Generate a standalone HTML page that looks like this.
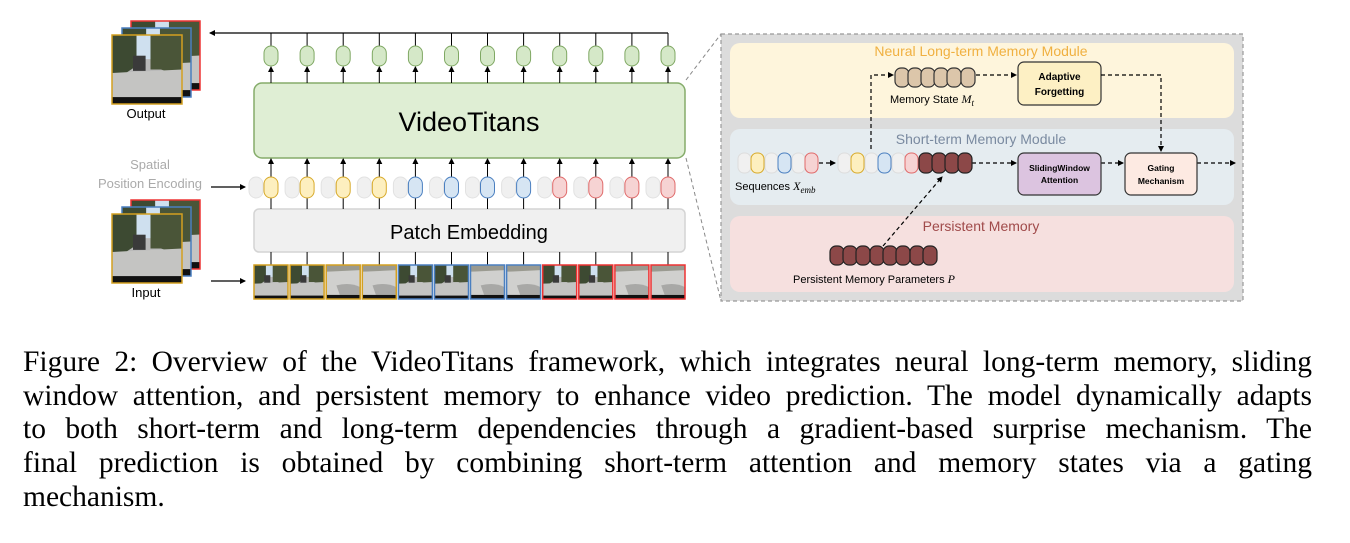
<!DOCTYPE html>
<html><head><meta charset="utf-8"><style>
html,body{margin:0;padding:0;background:#fff;}
body{width:1350px;height:543px;position:relative;overflow:hidden;}
.cap{position:absolute;left:23px;top:346px;width:1289px;font-family:"Liberation Serif",serif;font-size:29.5px;line-height:33.7px;color:#000;}
.cap div{text-align:justify;text-align-last:justify;white-space:nowrap;}
.cap div.l{text-align-last:left;}
</style></head><body>
<svg width="1350" height="330" viewBox="0 0 1350 330" style="position:absolute;left:0;top:0" font-family="Liberation Sans, sans-serif">
<defs>
<marker id="a" markerWidth="6" markerHeight="6" refX="5" refY="3" orient="auto" markerUnits="userSpaceOnUse"><path d="M0,0 L6,3 L0,6z" fill="#000"/></marker>
<symbol id="im1" viewBox="0 0 100 100" preserveAspectRatio="none">
<rect width="100" height="100" fill="#b8b8b8"/>
<rect width="100" height="35" fill="#cfe0ef"/>
<path d="M0,0 H35 V45 L20,55 H0z" fill="#3d4a32"/>
<path d="M55,0 H100 V60 L70,50 H55z" fill="#4a5538"/>
<rect x="30" y="30" width="18" height="22" fill="#3a3a3a"/>
<path d="M0,55 L100,50 V90 H0z" fill="#c4c4c2"/>
<rect y="90" width="100" height="10" fill="#111"/>
</symbol>
<symbol id="im2" viewBox="0 0 100 100" preserveAspectRatio="none">
<rect width="100" height="100" fill="#c8c8c6"/>
<rect width="100" height="20" fill="#9a9a90"/>
<path d="M0,20 L100,15 V88 H0z" fill="#d0d0ce"/>
<path d="M30,60 Q70,50 100,65 V88 H40z" fill="#a8a8a6"/>
<rect y="88" width="100" height="12" fill="#111"/>
</symbol>
</defs>

<use href="#im1" x="131" y="21" width="69" height="69"/>
<rect x="131" y="21" width="69" height="69" fill="none" stroke="#e33" stroke-width="1.5"/>
<use href="#im1" x="122" y="28" width="69" height="69"/>
<rect x="122" y="28" width="69" height="69" fill="none" stroke="#4a7fc0" stroke-width="1.5"/>
<use href="#im1" x="112" y="35" width="70" height="69"/>
<rect x="112" y="35" width="70" height="69" fill="none" stroke="#d4a020" stroke-width="1.5"/>
<text x="146" y="118" font-size="13" text-anchor="middle">Output</text>

<use href="#im1" x="131" y="200" width="69" height="69"/>
<rect x="131" y="200" width="69" height="69" fill="none" stroke="#e33" stroke-width="1.5"/>
<use href="#im1" x="122" y="207" width="69" height="69"/>
<rect x="122" y="207" width="69" height="69" fill="none" stroke="#4a7fc0" stroke-width="1.5"/>
<use href="#im1" x="112" y="214" width="70" height="69"/>
<rect x="112" y="214" width="70" height="69" fill="none" stroke="#d4a020" stroke-width="1.5"/>
<text x="146" y="297" font-size="13" text-anchor="middle">Input</text>

<text x="150" y="169" font-size="13" fill="#aaa" text-anchor="middle">Spatial</text>
<text x="150" y="188" font-size="13" fill="#aaa" text-anchor="middle">Position Encoding</text>
<line x1="211" y1="187" x2="245" y2="187" stroke="#000" stroke-width="1.2" marker-end="url(#a)"/>
<line x1="211" y1="281" x2="245" y2="281" stroke="#000" stroke-width="1.2" marker-end="url(#a)"/>

<line x1="668" y1="33" x2="668" y2="46" stroke="#000"/>
<line x1="668" y1="33" x2="210" y2="33" stroke="#000" stroke-width="1.2" marker-end="url(#a)"/>

<rect x="254" y="83" width="431" height="75" rx="8" fill="#dfeed4" stroke="#85ac6a" stroke-width="1.5"/>
<text x="469" y="131" font-size="27" text-anchor="middle">VideoTitans</text>
<rect x="254" y="209" width="431" height="43" rx="5" fill="#f0f0f0" stroke="#d4d4d4" stroke-width="1.5"/>
<text x="469" y="239" font-size="20" text-anchor="middle">Patch Embedding</text>

<g>
<g transform="translate(271,0)"><line y1="33" y2="46" stroke="#000"/><line y1="83" y2="67" stroke="#000" marker-end="url(#a)"/><rect x="-7" y="46" width="14" height="20" rx="7" fill="#d5e8c8" stroke="#7fa863"/><line y1="177" y2="159" stroke="#000" marker-end="url(#a)"/><line y1="198" y2="209" stroke="#000"/><line y1="252" y2="265" stroke="#000"/><rect x="-22" y="177" width="14" height="21" rx="7" fill="#f0f0f0" stroke="#e2e2e2"/><rect x="-7" y="177" width="14" height="21" rx="7" fill="#fdefbf" stroke="#d8aa2a"/><use href="#im1" x="-17" y="265" width="34" height="34"/><rect x="-17" y="265" width="34" height="34" fill="none" stroke="#d4a020" stroke-width="1.5"/></g>
<g transform="translate(307.1,0)"><line y1="33" y2="46" stroke="#000"/><line y1="83" y2="67" stroke="#000" marker-end="url(#a)"/><rect x="-7" y="46" width="14" height="20" rx="7" fill="#d5e8c8" stroke="#7fa863"/><line y1="177" y2="159" stroke="#000" marker-end="url(#a)"/><line y1="198" y2="209" stroke="#000"/><line y1="252" y2="265" stroke="#000"/><rect x="-22" y="177" width="14" height="21" rx="7" fill="#f0f0f0" stroke="#e2e2e2"/><rect x="-7" y="177" width="14" height="21" rx="7" fill="#fdefbf" stroke="#d8aa2a"/><use href="#im1" x="-17" y="265" width="34" height="34"/><rect x="-17" y="265" width="34" height="34" fill="none" stroke="#d4a020" stroke-width="1.5"/></g>
<g transform="translate(343.2,0)"><line y1="33" y2="46" stroke="#000"/><line y1="83" y2="67" stroke="#000" marker-end="url(#a)"/><rect x="-7" y="46" width="14" height="20" rx="7" fill="#d5e8c8" stroke="#7fa863"/><line y1="177" y2="159" stroke="#000" marker-end="url(#a)"/><line y1="198" y2="209" stroke="#000"/><line y1="252" y2="265" stroke="#000"/><rect x="-22" y="177" width="14" height="21" rx="7" fill="#f0f0f0" stroke="#e2e2e2"/><rect x="-7" y="177" width="14" height="21" rx="7" fill="#fdefbf" stroke="#d8aa2a"/><use href="#im2" x="-17" y="265" width="34" height="34"/><rect x="-17" y="265" width="34" height="34" fill="none" stroke="#d4a020" stroke-width="1.5"/></g>
<g transform="translate(379.3,0)"><line y1="33" y2="46" stroke="#000"/><line y1="83" y2="67" stroke="#000" marker-end="url(#a)"/><rect x="-7" y="46" width="14" height="20" rx="7" fill="#d5e8c8" stroke="#7fa863"/><line y1="177" y2="159" stroke="#000" marker-end="url(#a)"/><line y1="198" y2="209" stroke="#000"/><line y1="252" y2="265" stroke="#000"/><rect x="-22" y="177" width="14" height="21" rx="7" fill="#f0f0f0" stroke="#e2e2e2"/><rect x="-7" y="177" width="14" height="21" rx="7" fill="#fdefbf" stroke="#d8aa2a"/><use href="#im2" x="-17" y="265" width="34" height="34"/><rect x="-17" y="265" width="34" height="34" fill="none" stroke="#d4a020" stroke-width="1.5"/></g>
<g transform="translate(415.4,0)"><line y1="33" y2="46" stroke="#000"/><line y1="83" y2="67" stroke="#000" marker-end="url(#a)"/><rect x="-7" y="46" width="14" height="20" rx="7" fill="#d5e8c8" stroke="#7fa863"/><line y1="177" y2="159" stroke="#000" marker-end="url(#a)"/><line y1="198" y2="209" stroke="#000"/><line y1="252" y2="265" stroke="#000"/><rect x="-22" y="177" width="14" height="21" rx="7" fill="#f0f0f0" stroke="#e2e2e2"/><rect x="-7" y="177" width="14" height="21" rx="7" fill="#d6e5f3" stroke="#4a7fc0"/><use href="#im1" x="-17" y="265" width="34" height="34"/><rect x="-17" y="265" width="34" height="34" fill="none" stroke="#4a7fc0" stroke-width="1.5"/></g>
<g transform="translate(451.5,0)"><line y1="33" y2="46" stroke="#000"/><line y1="83" y2="67" stroke="#000" marker-end="url(#a)"/><rect x="-7" y="46" width="14" height="20" rx="7" fill="#d5e8c8" stroke="#7fa863"/><line y1="177" y2="159" stroke="#000" marker-end="url(#a)"/><line y1="198" y2="209" stroke="#000"/><line y1="252" y2="265" stroke="#000"/><rect x="-22" y="177" width="14" height="21" rx="7" fill="#f0f0f0" stroke="#e2e2e2"/><rect x="-7" y="177" width="14" height="21" rx="7" fill="#d6e5f3" stroke="#4a7fc0"/><use href="#im1" x="-17" y="265" width="34" height="34"/><rect x="-17" y="265" width="34" height="34" fill="none" stroke="#4a7fc0" stroke-width="1.5"/></g>
<g transform="translate(487.5,0)"><line y1="33" y2="46" stroke="#000"/><line y1="83" y2="67" stroke="#000" marker-end="url(#a)"/><rect x="-7" y="46" width="14" height="20" rx="7" fill="#d5e8c8" stroke="#7fa863"/><line y1="177" y2="159" stroke="#000" marker-end="url(#a)"/><line y1="198" y2="209" stroke="#000"/><line y1="252" y2="265" stroke="#000"/><rect x="-22" y="177" width="14" height="21" rx="7" fill="#f0f0f0" stroke="#e2e2e2"/><rect x="-7" y="177" width="14" height="21" rx="7" fill="#d6e5f3" stroke="#4a7fc0"/><use href="#im2" x="-17" y="265" width="34" height="34"/><rect x="-17" y="265" width="34" height="34" fill="none" stroke="#4a7fc0" stroke-width="1.5"/></g>
<g transform="translate(523.6,0)"><line y1="33" y2="46" stroke="#000"/><line y1="83" y2="67" stroke="#000" marker-end="url(#a)"/><rect x="-7" y="46" width="14" height="20" rx="7" fill="#d5e8c8" stroke="#7fa863"/><line y1="177" y2="159" stroke="#000" marker-end="url(#a)"/><line y1="198" y2="209" stroke="#000"/><line y1="252" y2="265" stroke="#000"/><rect x="-22" y="177" width="14" height="21" rx="7" fill="#f0f0f0" stroke="#e2e2e2"/><rect x="-7" y="177" width="14" height="21" rx="7" fill="#d6e5f3" stroke="#4a7fc0"/><use href="#im2" x="-17" y="265" width="34" height="34"/><rect x="-17" y="265" width="34" height="34" fill="none" stroke="#4a7fc0" stroke-width="1.5"/></g>
<g transform="translate(559.7,0)"><line y1="33" y2="46" stroke="#000"/><line y1="83" y2="67" stroke="#000" marker-end="url(#a)"/><rect x="-7" y="46" width="14" height="20" rx="7" fill="#d5e8c8" stroke="#7fa863"/><line y1="177" y2="159" stroke="#000" marker-end="url(#a)"/><line y1="198" y2="209" stroke="#000"/><line y1="252" y2="265" stroke="#000"/><rect x="-22" y="177" width="14" height="21" rx="7" fill="#f0f0f0" stroke="#e2e2e2"/><rect x="-7" y="177" width="14" height="21" rx="7" fill="#f6d3d3" stroke="#e06a6a"/><use href="#im1" x="-17" y="265" width="34" height="34"/><rect x="-17" y="265" width="34" height="34" fill="none" stroke="#e33" stroke-width="1.5"/></g>
<g transform="translate(595.8,0)"><line y1="33" y2="46" stroke="#000"/><line y1="83" y2="67" stroke="#000" marker-end="url(#a)"/><rect x="-7" y="46" width="14" height="20" rx="7" fill="#d5e8c8" stroke="#7fa863"/><line y1="177" y2="159" stroke="#000" marker-end="url(#a)"/><line y1="198" y2="209" stroke="#000"/><line y1="252" y2="265" stroke="#000"/><rect x="-22" y="177" width="14" height="21" rx="7" fill="#f0f0f0" stroke="#e2e2e2"/><rect x="-7" y="177" width="14" height="21" rx="7" fill="#f6d3d3" stroke="#e06a6a"/><use href="#im1" x="-17" y="265" width="34" height="34"/><rect x="-17" y="265" width="34" height="34" fill="none" stroke="#e33" stroke-width="1.5"/></g>
<g transform="translate(631.9,0)"><line y1="33" y2="46" stroke="#000"/><line y1="83" y2="67" stroke="#000" marker-end="url(#a)"/><rect x="-7" y="46" width="14" height="20" rx="7" fill="#d5e8c8" stroke="#7fa863"/><line y1="177" y2="159" stroke="#000" marker-end="url(#a)"/><line y1="198" y2="209" stroke="#000"/><line y1="252" y2="265" stroke="#000"/><rect x="-22" y="177" width="14" height="21" rx="7" fill="#f0f0f0" stroke="#e2e2e2"/><rect x="-7" y="177" width="14" height="21" rx="7" fill="#f6d3d3" stroke="#e06a6a"/><use href="#im2" x="-17" y="265" width="34" height="34"/><rect x="-17" y="265" width="34" height="34" fill="none" stroke="#e33" stroke-width="1.5"/></g>
<g transform="translate(668,0)"><line y1="83" y2="67" stroke="#000" marker-end="url(#a)"/><rect x="-7" y="46" width="14" height="20" rx="7" fill="#d5e8c8" stroke="#7fa863"/><line y1="177" y2="159" stroke="#000" marker-end="url(#a)"/><line y1="198" y2="209" stroke="#000"/><line y1="252" y2="265" stroke="#000"/><rect x="-22" y="177" width="14" height="21" rx="7" fill="#f0f0f0" stroke="#e2e2e2"/><rect x="-7" y="177" width="14" height="21" rx="7" fill="#f6d3d3" stroke="#e06a6a"/><use href="#im2" x="-17" y="265" width="34" height="34"/><rect x="-17" y="265" width="34" height="34" fill="none" stroke="#e33" stroke-width="1.5"/></g>
</g>

<line x1="686" y1="80" x2="721" y2="34" stroke="#888" stroke-dasharray="4,3"/>
<line x1="686" y1="158" x2="721" y2="301" stroke="#888" stroke-dasharray="4,3"/>

<rect x="721" y="34" width="522" height="267" fill="#dcdcdc" stroke="#999" stroke-dasharray="4,3" stroke-width="1.2"/>
<rect x="730" y="43" width="504" height="75" rx="10" fill="#fef5dc"/>
<rect x="730" y="129" width="504" height="76" rx="10" fill="#e5ecf0"/>
<rect x="730" y="216" width="504" height="76" rx="10" fill="#f6e0df"/>
<text x="981" y="56" font-size="14" fill="#f0b040" text-anchor="middle">Neural Long-term Memory Module</text>
<text x="981" y="144" font-size="14" fill="#7a8aa0" text-anchor="middle">Short-term Memory Module</text>
<text x="981" y="231" font-size="14" fill="#a04a4a" text-anchor="middle">Persistent Memory</text>

<g fill="#dcc6aa" stroke="#333" stroke-width="1.2">
<rect x="895" y="68" width="14" height="19" rx="6"/><rect x="908" y="68" width="14" height="19" rx="6"/><rect x="921" y="68" width="14" height="19" rx="6"/><rect x="934" y="68" width="14" height="19" rx="6"/><rect x="947" y="68" width="14" height="19" rx="6"/><rect x="961" y="68" width="14" height="19" rx="6"/>
</g>
<text x="890" y="103" font-size="11">Memory State <tspan font-family="Liberation Serif, serif" font-style="italic" font-size="12">M</tspan><tspan font-family="Liberation Serif, serif" font-style="italic" font-size="9" dy="3">t</tspan></text>

<rect x="1018" y="62" width="83" height="43" rx="6" fill="#fdf0c4" stroke="#333" stroke-width="1.2"/>
<text x="1059.5" y="80" font-size="10" font-weight="bold" text-anchor="middle">Adaptive</text>
<text x="1059.5" y="95" font-size="10" font-weight="bold" text-anchor="middle">Forgetting</text>

<g fill="none" stroke="#000" stroke-width="1.2" stroke-dasharray="4,3">
<polyline points="871,149 871,75 893,75" marker-end="url(#a)"/>
<line x1="976" y1="75" x2="1016" y2="75" marker-end="url(#a)"/>
<polyline points="1101,75 1161,75 1161,151" marker-end="url(#a)"/>
<line x1="819" y1="163" x2="835" y2="163" marker-end="url(#a)"/>
<line x1="972" y1="163" x2="1016" y2="163" marker-end="url(#a)"/>
<line x1="1101" y1="163" x2="1123" y2="163" marker-end="url(#a)"/>
<line x1="1197" y1="163" x2="1235" y2="163" marker-end="url(#a)"/>
<line x1="883" y1="246" x2="942" y2="177" marker-end="url(#a)"/>
</g>

<g stroke-width="1">
<rect x="738" y="153" width="13" height="20" rx="6" fill="#f0f0f0" stroke="#ddd"/>
<rect x="751" y="153" width="13" height="20" rx="6" fill="#fdefbf" stroke="#d8aa2a"/>
<rect x="765" y="153" width="13" height="20" rx="6" fill="#f0f0f0" stroke="#ddd"/>
<rect x="778" y="153" width="13" height="20" rx="6" fill="#d6e5f3" stroke="#4a7fc0"/>
<rect x="792" y="153" width="13" height="20" rx="6" fill="#f0f0f0" stroke="#ddd"/>
<rect x="805" y="153" width="13" height="20" rx="6" fill="#f6d3d3" stroke="#e06a6a"/>
<rect x="838" y="153" width="13" height="20" rx="6" fill="#f0f0f0" stroke="#ddd"/>
<rect x="851" y="153" width="13" height="20" rx="6" fill="#fdefbf" stroke="#d8aa2a"/>
<rect x="865" y="153" width="13" height="20" rx="6" fill="#f0f0f0" stroke="#ddd"/>
<rect x="878" y="153" width="13" height="20" rx="6" fill="#d6e5f3" stroke="#4a7fc0"/>
<rect x="892" y="153" width="13" height="20" rx="6" fill="#f0f0f0" stroke="#ddd"/>
<rect x="905" y="153" width="13" height="20" rx="6" fill="#f6d3d3" stroke="#e06a6a"/>
</g>
<g fill="#8c4848" stroke="#222" stroke-width="1.2">
<rect x="919" y="153" width="14" height="20" rx="6"/><rect x="932" y="153" width="14" height="20" rx="6"/><rect x="945" y="153" width="14" height="20" rx="6"/><rect x="958" y="153" width="14" height="20" rx="6"/>
</g>
<text x="735" y="190" font-size="11">Sequences <tspan font-family="Liberation Serif, serif" font-style="italic" font-size="12">X</tspan><tspan font-family="Liberation Serif, serif" font-style="italic" font-size="9" dy="3">emb</tspan></text>

<rect x="1018" y="153" width="83" height="42" rx="6" fill="#dcc4e0" stroke="#333" stroke-width="1.2"/>
<text x="1059.5" y="171" font-size="8.5" font-weight="bold" text-anchor="middle">SlidingWindow</text>
<text x="1059.5" y="183" font-size="8.5" font-weight="bold" text-anchor="middle">Attention</text>
<rect x="1125" y="153" width="72" height="42" rx="6" fill="#fdeae2" stroke="#333" stroke-width="1.2"/>
<text x="1161" y="171" font-size="8.5" font-weight="bold" text-anchor="middle">Gating</text>
<text x="1161" y="184" font-size="8.5" font-weight="bold" text-anchor="middle">Mechanism</text>

<g fill="#8c4848" stroke="#222" stroke-width="1.2">
<rect x="830" y="246" width="14" height="19" rx="6"/><rect x="843" y="246" width="14" height="19" rx="6"/><rect x="856" y="246" width="14" height="19" rx="6"/><rect x="870" y="246" width="14" height="19" rx="6"/><rect x="883" y="246" width="14" height="19" rx="6"/><rect x="896" y="246" width="14" height="19" rx="6"/><rect x="910" y="246" width="14" height="19" rx="6"/><rect x="923" y="246" width="14" height="19" rx="6"/>
</g>
<text x="793" y="283" font-size="11">Persistent Memory Parameters <tspan font-family="Liberation Serif, serif" font-style="italic" font-size="12">P</tspan></text>
</svg>

<div class="cap">
<div>Figure 2: Overview of the VideoTitans framework, which integrates neural long-term memory, sliding</div>
<div>window attention, and persistent memory to enhance video prediction. The model dynamically adapts</div>
<div>to both short-term and long-term dependencies through a gradient-based surprise mechanism. The</div>
<div>final prediction is obtained by combining short-term attention and memory states via a gating</div>
<div class="l">mechanism.</div>
</div>
</body></html>
